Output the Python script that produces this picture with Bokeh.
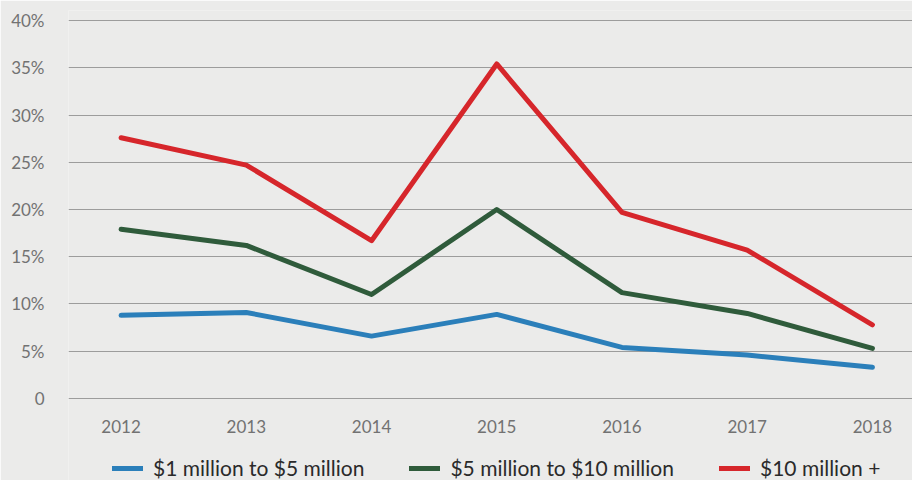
from bokeh.plotting import figure
from bokeh.models import FixedTicker, Range1d, Legend, LegendItem, ColumnDataSource
from bokeh.core.properties import value
from bokeh.embed import file_html
from bokeh.resources import INLINE

years = [2012, 2013, 2014, 2015, 2016, 2017, 2018]
tier_1_5 = [8.8, 9.1, 6.6, 8.9, 5.4, 4.6, 3.3]
tier_5_10 = [17.9, 16.2, 11.0, 20.0, 11.2, 9.0, 5.3]
tier_10_plus = [27.6, 24.7, 16.7, 35.4, 19.7, 15.7, 7.8]
series_names = ["$1 million to $5 million", "$5 million to $10 million", "$10 million +"]
y_ticks = [0, 5, 10, 15, 20, 25, 30, 35, 40]
y_tick_labels = ["0", "5%", "10%", "15%", "20%", "25%", "30%", "35%", "40%"]

FONT = "Lato"
BG = "#ebebea"
TICK_COLOR = "#727272"

# frame spans the full height; 0% sits at y=398px, 9.45px per percent
p = figure(width=912, height=480, output_backend="svg", toolbar_location=None,
           x_range=Range1d(2011.58, 2018.32), y_range=Range1d(-8.68, 41.06),
           min_border_left=68, min_border_right=0, min_border_top=10, min_border_bottom=0)
p.background_fill_color = BG
p.border_fill_color = BG
p.outline_line_color = None

p.xgrid.grid_line_color = None
p.ygrid.grid_line_color = "#9c9c9c"
p.ygrid.grid_line_width = 1
p.ygrid.ticker = FixedTicker(ticks=y_ticks)

p.xaxis.visible = False
p.yaxis.ticker = FixedTicker(ticks=y_ticks)
p.yaxis.major_label_overrides = {t: l for t, l in zip(y_ticks, y_tick_labels)}
p.yaxis.axis_line_color = None
p.yaxis.major_tick_line_color = None
p.yaxis.minor_tick_line_color = None
p.yaxis.major_label_text_font = FONT
p.yaxis.major_label_text_font_size = "17px"
p.yaxis.major_label_text_color = TICK_COLOR
p.yaxis.major_label_standoff = 18

# year labels under the plot area
src_years = ColumnDataSource(dict(x=years, y=[-2.95] * len(years), t=[str(y) for y in years]))
p.text(x="x", y="y", text="t", source=src_years, text_font=value(FONT),
       text_font_size="17px", text_color=TICK_COLOR, text_align="center",
       text_baseline="middle")

colors = ["#2b7fba", "#2f5b3b", "#d6262b"]
renderers = []
for vals, c in zip([tier_1_5, tier_5_10, tier_10_plus], colors):
    r = p.line(years, vals, line_color=c, line_width=5, line_cap="round", line_join="round")
    renderers.append(r)

lg = Legend(items=[LegendItem(label=n, renderers=[r]) for n, r in zip(series_names, renderers)],
            location=(44, 0), orientation="horizontal", background_fill_alpha=0,
            border_line_color=None, padding=0, margin=0, spacing=45,
            glyph_width=31, glyph_height=18, label_standoff=10,
            label_text_font=FONT, label_text_font_size="21px", label_text_color="#2a2a2a")
p.add_layout(lg, "center")

open("out.html", "w").write(file_html(p, INLINE))
